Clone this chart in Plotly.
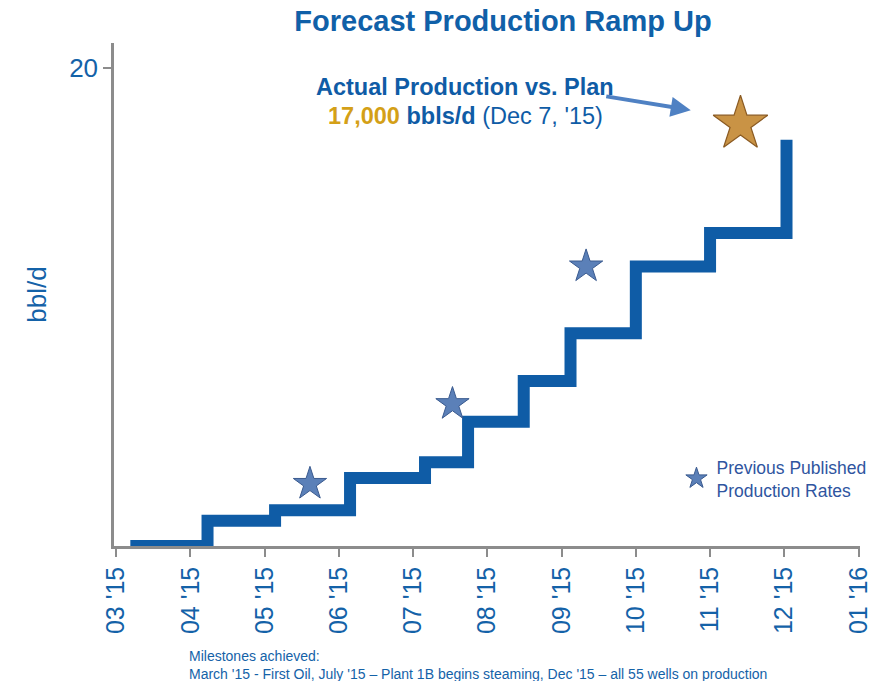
import plotly.graph_objects as go

# ---- data ----
month_labels = ["03 '15", "04 '15", "05 '15", "06 '15", "07 '15", "08 '15",
                "09 '15", "10 '15", "11 '15", "12 '15", "01 '16"]
month_pos = list(range(len(month_labels)))

# forecast ramp (months since Mar 1 '15, thousand bbl/d)
step_x = [0.19, 1.23, 2.14, 3.15, 4.16, 4.74, 5.49, 6.12, 7.00, 8.00, 9.03]
step_y = [0.0, 1.06, 1.50, 2.85, 3.50, 5.20, 6.90, 8.90, 11.70, 13.10, 17.00]

# previously published production rates
prev_x = [2.61, 4.53, 6.33]
prev_y = [2.60, 5.94, 11.70]

# actual production
actual_x = [8.41]
actual_y = [17.66]

y_ticks = [20]

BLUE = "#0f5ca6"
TXT = "#1462a8"
FONT = "Liberation Sans, Arial, sans-serif"

# page body has an 8px margin -> figure drawn at (8, 8)
W, H = 868, 673

fig = go.Figure()

fig.add_trace(go.Scatter(
    x=step_x, y=step_y, mode="lines", line_shape="hv",
    line=dict(color=BLUE, width=12), showlegend=False, hoverinfo="skip"))

fig.add_trace(go.Scatter(
    x=prev_x, y=prev_y, mode="markers",
    name="Previous Published<br>Production Rates",
    marker=dict(symbol="star", size=25, color="#5b80b8",
                line=dict(color="#3a5a8f", width=1)),
    showlegend=True))

fig.add_trace(go.Scatter(
    x=actual_x, y=actual_y, mode="markers",
    marker=dict(symbol="star", size=41, color="#c99345",
                line=dict(color="#8a5a22", width=1.2)),
    showlegend=False))

fig.update_layout(
    width=W, height=H,
    margin=dict(l=106, r=16, t=35, b=135, autoexpand=False),
    paper_bgcolor="white", plot_bgcolor="white",
    font=dict(family=FONT, color=TXT),
    title=dict(text="<b>Forecast Production Ramp Up</b>",
               x=(503 - 8) / W, xanchor="center",
               y=1 - (21 - 8) / H, yanchor="middle",
               font=dict(size=29, color="#1060a8", family=FONT)),
    legend=dict(x=0.754, y=0.134, xanchor="left", yanchor="middle",
                font=dict(size=17.5, color="#2f55a0", family=FONT),
                bgcolor="rgba(0,0,0,0)", itemsizing="trace"),
    xaxis=dict(range=[-0.03, 10.02], tickvals=month_pos, ticktext=month_labels,
               tickangle=-90, ticks="outside", ticklen=8, tickwidth=2,
               tickcolor="#8c8c8c", showline=True, linecolor="#8c8c8c",
               linewidth=2.5, showgrid=False, zeroline=False, automargin=False,
               tickfont=dict(size=25, color=TXT, family=FONT)),
    yaxis=dict(range=[0, 21.05], tickvals=y_ticks, ticks="outside", ticklen=8,
               tickwidth=2, tickcolor="#8c8c8c", showline=True,
               linecolor="#8c8c8c", linewidth=2.5, showgrid=False,
               zeroline=False, automargin=False,
               tickfont=dict(size=26, color=TXT, family=FONT),
               title=dict(text="bbl/d", standoff=16,
                          font=dict(size=26, color=TXT, family=FONT))),
)

# headline annotation
fig.add_annotation(xref="paper", yref="paper", x=(465 - 114) / 746,
                   y=(546 - 87) / 503, xanchor="center", yanchor="middle",
                   text="<b>Actual Production vs. Plan</b>", showarrow=False,
                   font=dict(size=23.5, color="#0f5ca6", family=FONT))
fig.add_annotation(xref="paper", yref="paper", x=(465 - 114) / 746,
                   y=(546 - 116) / 503, xanchor="center", yanchor="middle",
                   text="<b><span style='color:#d4a017'>17,000</span> bbls/d</b> (Dec 7, '15)",
                   showarrow=False,
                   font=dict(size=23.5, color="#0f5ca6", family=FONT))

# arrow pointing to the actual-production star
fig.add_annotation(x=7.74, y=18.24, xref="x", yref="y", ax=-86, ay=-14,
                   text="", showarrow=True, arrowhead=2, arrowsize=1,
                   arrowwidth=4, arrowcolor="#4f81c3")

# footer
fig.add_annotation(xref="paper", yref="paper", x=(187 - 114) / 746,
                   y=(546 - 646) / 503, xanchor="left", yanchor="top",
                   align="left", showarrow=False,
                   text="Milestones achieved:<br>March '15 - First Oil, July '15 \u2013 Plant 1B begins steaming, Dec '15 \u2013 all 55 wells on production",
                   font=dict(size=14, color="#1462a8", family=FONT))

fig.write_html("out.html")
